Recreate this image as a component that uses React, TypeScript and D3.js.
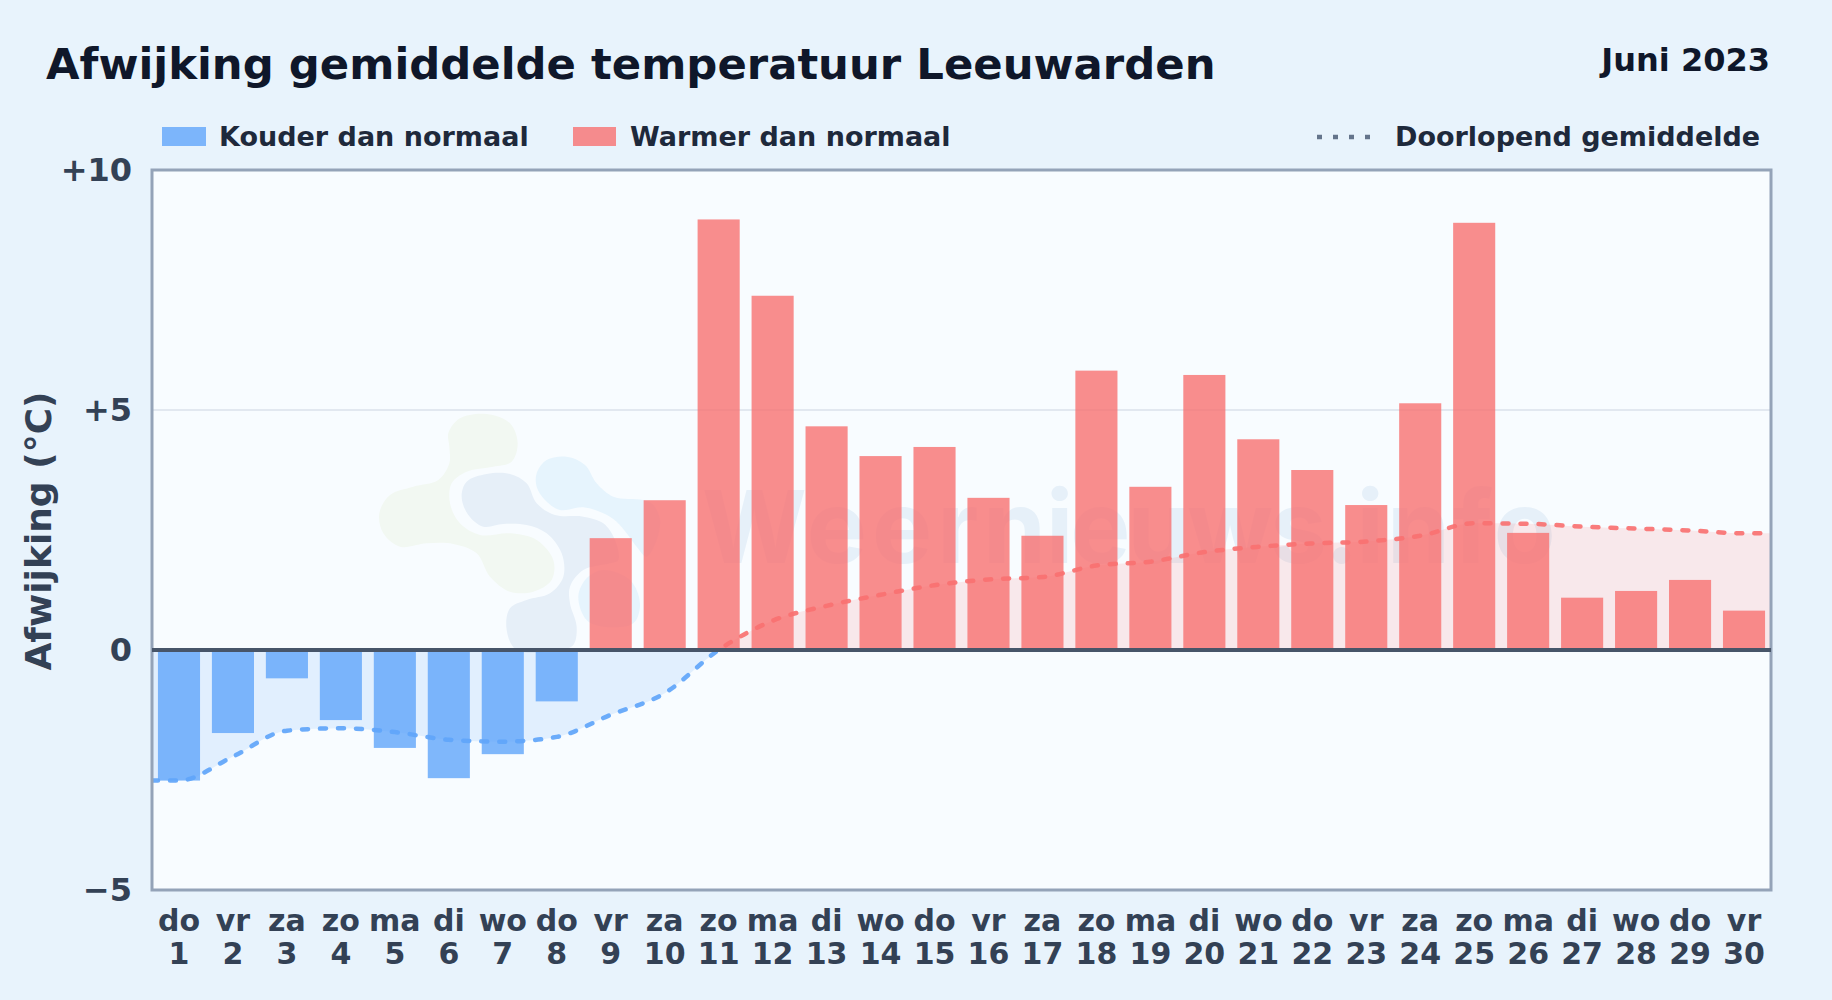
import React, { useRef, useEffect } from "react";
import * as d3 from "d3";

const weekdays = ["do", "vr", "za", "zo", "ma", "di", "wo", "do", "vr", "za", "zo", "ma", "di", "wo", "do", "vr", "za", "zo", "ma", "di", "wo", "do", "vr", "za", "zo", "ma", "di", "wo", "do", "vr"];
const days = d3.range(1, 31);
const deviation = [-2.72, -1.73, -0.59, -1.46, -2.04, -2.67, -2.17, -1.07, 2.33, 3.12, 8.97, 7.38, 4.66, 4.04, 4.23, 3.17, 2.38, 5.82, 3.4, 5.73, 4.39, 3.75, 3.02, 5.14, 8.9, 2.44, 1.09, 1.23, 1.46, 0.82];
const runningMean = [-2.72, -2.22, -1.68, -1.63, -1.71, -1.87, -1.91, -1.81, -1.35, -0.9, 0, 0.61, 0.92, 1.15, 1.35, 1.47, 1.52, 1.76, 1.84, 2.04, 2.15, 2.22, 2.26, 2.38, 2.64, 2.63, 2.57, 2.53, 2.49, 2.43];
const yTicks = [-5, 0, 5, 10];

// watermark logo, rough outlines (3x units, group is scaled down)
const logoGreen: [number, number][] = [[235, 100], [270, 55], [350, 42], [420, 70], [443, 130], [425, 185], [370, 200], [290, 215], [245, 250], [240, 310], [270, 370], [330, 405], [420, 400], [500, 420], [550, 480], [545, 540], [490, 575], [420, 575], [360, 530], [320, 460], [250, 432], [170, 430], [90, 440], [40, 400], [28, 340], [60, 285], [130, 260], [205, 240], [238, 190], [238, 140]];
const logoGrey: [number, number][] = [[275, 290], [290, 245], [350, 222], [420, 222], [470, 250], [500, 310], [555, 345], [640, 350], [700, 370], [735, 420], [745, 480], [720, 490], [640, 510], [600, 560], [600, 610], [620, 680], [610, 735], [570, 750], [440, 750], [410, 690], [420, 625], [470, 600], [540, 580], [580, 530], [575, 460], [530, 400], [470, 375], [400, 372], [340, 380], [295, 345]];
const logoBlue: [number, number][] = [[500, 220], [530, 180], [590, 170], [645, 195], [680, 250], [730, 290], [820, 300], [850, 315], [870, 360], [860, 420], [830, 470], [800, 440], [770, 400], [740, 365], [700, 340], [640, 322], [570, 330], [525, 300], [500, 260]];
const logoBlueSmall: [number, number][] = [[625, 590], [650, 535], [700, 510], [780, 540], [810, 610], [790, 670], [700, 680], [650, 660]];

const width = 1832;
const height = 1000;
const marginTop = 170;
const marginRight = 61;
const marginBottom = 110;
const marginLeft = 152;

const App: React.FC = () => {
    const svgRef = useRef<SVGSVGElement | null>(null);

    useEffect(() => {
        if (!svgRef.current) return;

        const x = d3.scaleBand<number>()
            .domain(days)
            .range([marginLeft, width - marginRight])
            .paddingInner(0.22)
            .paddingOuter(0.11);

        const y = d3.scaleLinear()
            .domain([-5, 10])
            .range([height - marginBottom, marginTop]);

        const svg = d3.select(svgRef.current);
        svg.selectAll("*").remove();

        const font = "'DejaVu Sans', sans-serif";
        const innerW = width - marginLeft - marginRight;

        svg.append("rect").attr("width", width).attr("height", height).attr("fill", "#e8f3fc");
        svg.append("rect")
            .attr("x", marginLeft).attr("y", marginTop)
            .attr("width", innerW).attr("height", y(-5) - y(10))
            .attr("fill", "#f8fcff");

        const defs = svg.append("defs");
        defs.append("clipPath").attr("id", "above").append("rect")
            .attr("x", marginLeft).attr("y", marginTop)
            .attr("width", innerW).attr("height", y(0) - y(10));
        defs.append("clipPath").attr("id", "below").append("rect")
            .attr("x", marginLeft).attr("y", y(0))
            .attr("width", innerW).attr("height", y(-5) - y(0));

        // watermark
        const blob = d3.line().curve(d3.curveCatmullRomClosed.alpha(0.5));
        const logo = svg.append("g").attr("transform", "translate(370,400) scale(0.3333)");
        logo.append("path").attr("d", blob(logoGreen)!).attr("fill", "#f2f8f2");
        logo.append("path").attr("d", blob(logoBlue)!).attr("fill", "#e6f4fd");
        logo.append("path").attr("d", blob(logoBlueSmall)!).attr("fill", "#e6f4fd");
        logo.append("path").attr("d", blob(logoGrey)!).attr("fill", "#e6eff8");
        svg.append("text")
            .attr("x", 702).attr("y", 563)
            .attr("dx", "0 5 5 5 4 0 -3 -3 -3 -3 -2 -2 3 3 3")
            .attr("font-family", "Inter, sans-serif")
            .attr("font-weight", 700)
            .attr("font-size", 101)
            .attr("fill", "#e6f0f9")
            .text("Weernieuws.info");

        // grid
        svg.append("line")
            .attr("x1", marginLeft).attr("x2", width - marginRight)
            .attr("y1", y(5)).attr("y2", y(5))
            .attr("stroke", "#e2e8f0").attr("stroke-width", 2);

        // running mean extends flat to both plot edges
        const meanPts: [number, number][] = [
            [marginLeft, runningMean[0]],
            ...runningMean.map((v, i) => [x(days[i])! + x.bandwidth() / 2, v] as [number, number]),
            [width - marginRight, runningMean[runningMean.length - 1]],
        ];

        const area = d3.area<[number, number]>()
            .x(d => d[0]).y0(y(0)).y1(d => y(d[1]))
            .curve(d3.curveMonotoneX);
        const meanLine = d3.line<[number, number]>()
            .x(d => d[0]).y(d => y(d[1]))
            .curve(d3.curveMonotoneX);

        svg.append("path").attr("d", area(meanPts)!).attr("clip-path", "url(#above)")
            .attr("fill", "rgba(248,113,113,0.14)");
        svg.append("path").attr("d", area(meanPts)!).attr("clip-path", "url(#below)")
            .attr("fill", "rgba(96,165,250,0.15)");

        svg.append("g")
            .selectAll("rect")
            .data(deviation)
            .join("rect")
            .attr("x", (_, i) => x(days[i])!)
            .attr("width", x.bandwidth())
            .attr("y", d => y(Math.max(d, 0)))
            .attr("height", d => Math.abs(y(d) - y(0)))
            .attr("fill", d => d < 0 ? "rgba(96,165,250,0.8)" : "rgba(248,113,113,0.8)");

        [["above", "#f87171"], ["below", "#60a5fa"]].forEach(([id, color]) => {
            svg.append("path")
                .attr("d", meanLine(meanPts)!)
                .attr("clip-path", `url(#${id})`)
                .attr("fill", "none")
                .attr("stroke", color)
                .attr("stroke-opacity", 0.92)
                .attr("stroke-width", 4.5)
                .attr("stroke-linecap", "round")
                .attr("stroke-dasharray", "6 12");
        });

        // frame
        svg.append("rect")
            .attr("x", marginLeft).attr("y", marginTop)
            .attr("width", innerW).attr("height", y(-5) - y(10))
            .attr("fill", "none")
            .attr("stroke", "#94a3b8").attr("stroke-width", 3);

        svg.append("line")
            .attr("x1", marginLeft).attr("x2", width - marginRight)
            .attr("y1", y(0)).attr("y2", y(0))
            .attr("stroke", "#475569").attr("stroke-width", 4);

        // axes
        svg.append("g")
            .attr("transform", `translate(132,0)`)
            .call(d3.axisLeft(y).tickValues(yTicks).tickSize(0).tickPadding(0)
                .tickFormat(d => +d > 0 ? `+${d}` : +d < 0 ? `−${Math.abs(+d)}` : `${d}`))
            .call(g => g.select(".domain").remove())
            .call(g => g.selectAll("text")
                .attr("x", 0)
                .attr("dy", "0.32em")
                .attr("fill", "#334155")
                .attr("font-family", font)
                .attr("font-weight", 700)
                .attr("font-size", 32));

        const xTick = svg.append("g")
            .selectAll("text")
            .data(days)
            .join("text")
            .attr("text-anchor", "middle")
            .attr("fill", "#334155")
            .attr("font-family", font)
            .attr("font-weight", 700)
            .attr("font-size", 30)
            .attr("transform", d => `translate(${x(d)! + x.bandwidth() / 2},0)`);
        xTick.append("tspan").attr("x", 0).attr("y", 931).text((_, i) => weekdays[i]);
        xTick.append("tspan").attr("x", 0).attr("y", 964).text(d => d);

        svg.append("text")
            .attr("transform", `translate(51,${531}) rotate(-90)`)
            .attr("text-anchor", "middle")
            .attr("fill", "#334155")
            .attr("font-family", font)
            .attr("font-weight", 700)
            .attr("font-size", 36)
            .text("Afwijking (°C)");

        // title
        svg.append("text")
            .attr("x", 46).attr("y", 79)
            .attr("fill", "#0f172a")
            .attr("font-family", font)
            .attr("font-weight", 700)
            .attr("font-size", 43.35)
            .text("Afwijking gemiddelde temperatuur Leeuwarden");
        svg.append("text")
            .attr("x", 1770).attr("y", 71)
            .attr("text-anchor", "end")
            .attr("fill", "#0f172a")
            .attr("font-family", font)
            .attr("font-weight", 700)
            .attr("font-size", 32)
            .text("Juni 2023");

        // legend
        const legendText = (xPos: number, label: string) => svg.append("text")
            .attr("x", xPos).attr("y", 146)
            .attr("fill", "#1e293b")
            .attr("font-family", font)
            .attr("font-weight", 700)
            .attr("font-size", 27)
            .text(label);
        svg.append("rect").attr("x", 162).attr("y", 127).attr("width", 44).attr("height", 19).attr("fill", "rgba(96,165,250,0.8)");
        legendText(219, "Kouder dan normaal");
        svg.append("rect").attr("x", 573).attr("y", 127).attr("width", 43).attr("height", 19).attr("fill", "rgba(248,113,113,0.8)");
        legendText(630, "Warmer dan normaal");
        svg.append("line")
            .attr("x1", 1317).attr("x2", 1376).attr("y1", 137).attr("y2", 137)
            .attr("stroke", "#64748b").attr("stroke-width", 4.5)
            .attr("stroke-dasharray", "5 11");
        legendText(1395, "Doorlopend gemiddelde");
    }, []);

    return <svg ref={svgRef} width={width} height={height} viewBox={`0 0 ${width} ${height}`}
        style={{ position: "absolute", left: 0, top: 0, display: "block" }} />;
};

export default App;
